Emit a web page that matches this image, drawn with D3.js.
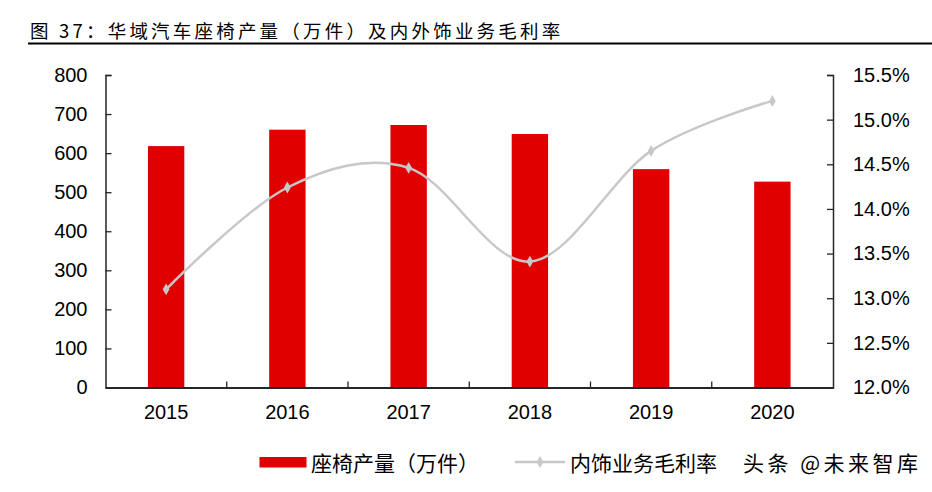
<!DOCTYPE html>
<html>
<head>
<meta charset="utf-8">
<script src="https://cdn.jsdelivr.net/npm/d3@7"></script>
<style>
  html, body { margin: 0; padding: 0; background: #fff; }
  svg { display: block; }
  text { font-family: "Liberation Sans", Arial, "Noto Sans CJK SC", sans-serif; fill: #000; }
</style>
</head>
<body>
<svg id="chart" width="932" height="492"></svg>
<script>
const title = "图 37：华域汽车座椅产量（万件）及内外饰业务毛利率";
const categories = ["2015", "2016", "2017", "2018", "2019", "2020"];
const seatOutput = [618, 660, 672, 649, 559, 527];
const marginRate = [0.1310, 0.1424, 0.1446, 0.1341, 0.1465, 0.1521];
const leftTicks = [0, 100, 200, 300, 400, 500, 600, 700, 800];
const rightTicks = [0.12, 0.125, 0.13, 0.135, 0.14, 0.145, 0.15, 0.155];
const barLabel = "座椅产量（万件）";
const lineLabel = "内饰业务毛利率";
const watermark = "头条 @未来智库";

const svg = d3.select("#chart");
const L = 105.5, R = 833, T = 75, B = 387.5;
const red = "#E00000", gray = "#C8C8C8", axisColor = "#262626";

// Title
svg.append("text").attr("x", 30).attr("y", 37.5)
  .attr("font-size", 18.5).attr("letter-spacing", "3.2px")
  .style("font-family", "'Noto Sans CJK SC', 'Liberation Sans', sans-serif")
  .text(title);
svg.append("line").attr("x1", 28).attr("x2", 932).attr("y1", 43.5).attr("y2", 43.5)
  .attr("stroke", "#000").attr("stroke-width", 2);

const x = d3.scaleBand().domain(categories).range([L, R]).paddingInner(0.7).paddingOuter(0.35);
const yL = d3.scaleLinear().domain([0, 800]).range([B, T]);
const yR = d3.scaleLinear().domain([0.12, 0.155]).range([B, T]);

// Bars
svg.append("g").selectAll("rect").data(categories).join("rect")
  .attr("x", d => x(d))
  .attr("width", x.bandwidth())
  .attr("y", (d, i) => yL(seatOutput[i]))
  .attr("height", (d, i) => B - yL(seatOutput[i]))
  .attr("fill", red);

// Left axis
const gl = svg.append("g").attr("transform", `translate(${L},0)`)
  .call(d3.axisLeft(yL).tickValues(leftTicks).tickSize(-6).tickPadding(18));
// Right axis
const gr = svg.append("g").attr("transform", `translate(${R},0)`)
  .call(d3.axisRight(yR).tickValues(rightTicks).tickSize(-6).tickPadding(20)
    .tickFormat(d3.format(".1%")));
[gl, gr].forEach(g => {
  g.select(".domain").attr("stroke", axisColor).attr("stroke-width", 1.5);
  g.selectAll(".tick line").attr("stroke", axisColor).attr("stroke-width", 1.3);
  g.selectAll(".tick text").attr("font-size", 20).attr("fill", "#000")
    .style("font-family", "'Liberation Sans', Arial, sans-serif");
});

// Bottom axis (labels at centers, ticks at category boundaries)
const gb = svg.append("g").attr("transform", `translate(0,${B})`)
  .call(d3.axisBottom(x).tickSize(0).tickPadding(17));
gb.select(".domain").attr("stroke", axisColor).attr("stroke-width", 1.8);
gb.selectAll(".tick text").attr("font-size", 20).attr("fill", "#000")
  .style("font-family", "'Liberation Sans', Arial, sans-serif");
const gap = x.step() - x.bandwidth();
svg.append("g").selectAll("line").data(categories.slice(1)).join("line")
  .attr("x1", d => x(d) - gap / 2).attr("x2", d => x(d) - gap / 2)
  .attr("y1", B).attr("y2", B - 6)
  .attr("stroke", axisColor).attr("stroke-width", 1.3);

// Line
const cx = d => x(d) + x.bandwidth() / 2;
const line = d3.line().x((d, i) => cx(categories[i])).y(d => yR(d))
  .curve(d3.curveCardinal.tension(0));
svg.append("path").datum(marginRate).attr("d", line)
  .attr("fill", "none").attr("stroke", gray).attr("stroke-width", 2.5);
const diamond = d3.symbol().type(d3.symbolDiamond).size(40);
svg.append("g").selectAll("path").data(marginRate).join("path")
  .attr("transform", (d, i) => `translate(${cx(categories[i])},${yR(d)})`)
  .attr("d", diamond).attr("fill", gray);

// Legend
const lg = svg.append("g");
lg.append("rect").attr("x", 259.5).attr("y", 457).attr("width", 47).attr("height", 10.5).attr("fill", red);
lg.append("text").attr("x", 311).attr("y", 470.5).attr("font-size", 21)
  .style("font-family", "'Noto Sans CJK SC', sans-serif").text(barLabel);
lg.append("line").attr("x1", 515).attr("x2", 565).attr("y1", 462).attr("y2", 462)
  .attr("stroke", gray).attr("stroke-width", 2.5);
lg.append("path").attr("transform", "translate(540,462)").attr("d", diamond).attr("fill", gray);
lg.append("text").attr("x", 570).attr("y", 470.5).attr("font-size", 21)
  .style("font-family", "'Noto Sans CJK SC', sans-serif").text(lineLabel);
lg.append("text").attr("x", 743).attr("y", 470.5).attr("font-size", 21)
  .attr("letter-spacing", "3.5px")
  .style("font-family", "'Noto Sans CJK SC', sans-serif").attr("fill", "#222")
  .text(watermark);
</script>
</body>
</html>
